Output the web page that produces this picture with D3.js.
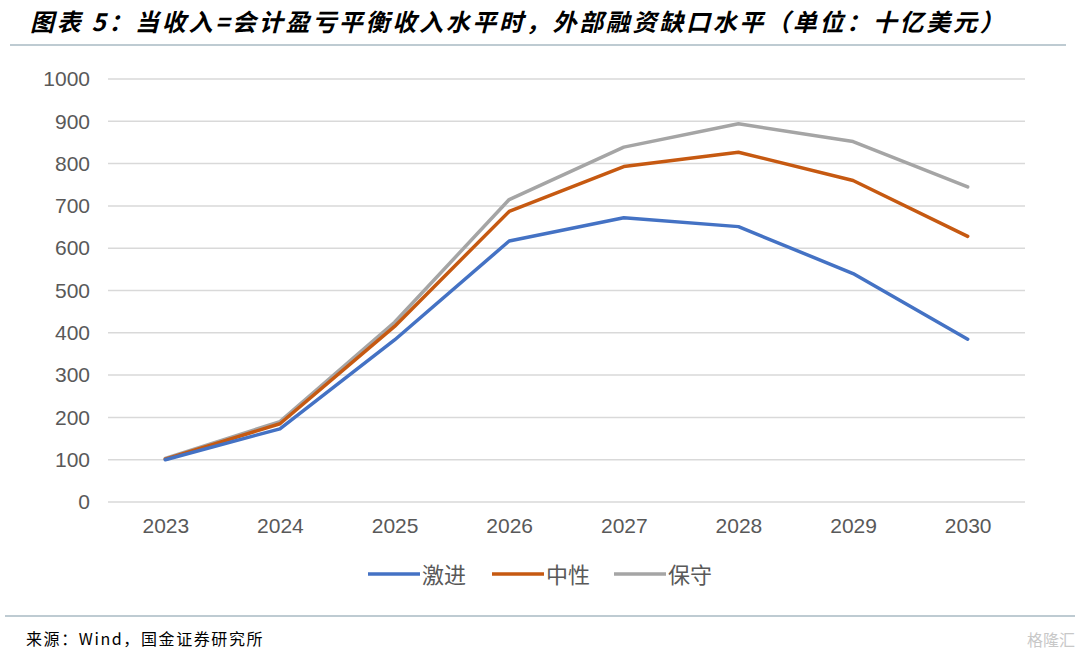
<!DOCTYPE html>
<html>
<head>
<meta charset="utf-8">
<script src="https://cdn.jsdelivr.net/npm/d3@7"></script>
<style>
  body { margin: 0; background: #fff; }
  svg { display: block; font-family: "Noto Sans CJK SC", "Liberation Sans", sans-serif; }
</style>
</head>
<body>
<div id="chart"></div>
<script>
// data (十亿美元)
const years = ['2023', '2024', '2025', '2026', '2027', '2028', '2029', '2030'];
const seriesNames = ['激进', '中性', '保守'];
const aggressive = [100, 173, 383, 617, 672, 651, 540, 385];
const neutral = [101, 185, 415, 687, 793, 827, 760, 628];
const conservative = [103, 190, 425, 715, 839, 894, 852, 745];
const yTicks = [0, 100, 200, 300, 400, 500, 600, 700, 800, 900, 1000];
const colors = ['#4472C4', '#C65911', '#A5A5A5'];

const W = 1080, H = 660;
const plot = { left: 108, right: 1025, top: 79, bottom: 502 };

const svg = d3.select('#chart').append('svg')
  .attr('width', W).attr('height', H);

// title + rule
svg.append('text')
  .attr('x', 30).attr('y', 31)
  .attr('font-size', 24).attr('font-weight', 'bold').attr('font-style', 'italic')
  .attr('letter-spacing', 2.7)
  .attr('fill', '#000')
  .text('图表 5：当收入=会计盈亏平衡收入水平时，外部融资缺口水平（单位：十亿美元）');
svg.append('line')
  .attr('x1', 10).attr('x2', 1066).attr('y1', 45).attr('y2', 45)
  .attr('stroke', '#7f97a6').attr('stroke-width', 1.2);

// scales
const x = d3.scalePoint().domain(years).range([plot.left, plot.right]).padding(0.5);
const y = d3.scaleLinear().domain([0, 1000]).range([plot.bottom, plot.top]);

// grid
svg.append('g')
  .selectAll('line')
  .data(yTicks)
  .join('line')
  .attr('x1', plot.left).attr('x2', plot.right)
  .attr('y1', d => y(d)).attr('y2', d => y(d))
  .attr('stroke', '#d9d9d9').attr('stroke-width', 1.5);

// y axis labels
const yAxis = svg.append('g')
  .attr('transform', `translate(${plot.left},0)`)
  .call(d3.axisLeft(y).tickValues(yTicks).tickFormat(d3.format('d')).tickSize(0).tickPadding(18));
yAxis.select('.domain').remove();
yAxis.selectAll('text')
  .attr('font-size', 21).attr('fill', '#595959')
  .attr('font-family', 'Liberation Sans, Arial, sans-serif');

// x axis labels
const xAxis = svg.append('g')
  .attr('transform', `translate(0,${plot.bottom})`)
  .call(d3.axisBottom(x).tickSize(0).tickPadding(16));
xAxis.select('.domain').remove();
xAxis.selectAll('text')
  .attr('font-size', 21).attr('fill', '#595959')
  .attr('font-family', 'Liberation Sans, Arial, sans-serif');

// lines
const allSeries = [aggressive, neutral, conservative];
const line = d3.line()
  .x((d, i) => x(years[i]))
  .y(d => y(d));

// draw 保守 first so 激进 sits on top like the reference
[2, 1, 0].forEach(k => {
  svg.append('path')
    .datum(allSeries[k])
    .attr('d', line)
    .attr('fill', 'none')
    .attr('stroke', colors[k])
    .attr('stroke-width', 3.5)
    .attr('stroke-linejoin', 'round')
    .attr('stroke-linecap', 'round');
});

// legend
const legendX = [368, 492, 614];
const legend = svg.append('g').attr('class', 'legend');
seriesNames.forEach((name, i) => {
  legend.append('line')
    .attr('x1', legendX[i]).attr('x2', legendX[i] + 52)
    .attr('y1', 574).attr('y2', 574)
    .attr('stroke', colors[i]).attr('stroke-width', 3.5);
  legend.append('text')
    .attr('x', legendX[i] + 54).attr('y', 583)
    .attr('font-size', 22).attr('fill', '#595959')
    .text(name);
});

// footer
svg.append('line')
  .attr('x1', 5).attr('x2', 1075).attr('y1', 616).attr('y2', 616)
  .attr('stroke', '#7f97a6').attr('stroke-width', 1.2);
svg.append('text')
  .attr('x', 26).attr('y', 645)
  .attr('font-size', 16).attr('letter-spacing', 1.6).attr('fill', '#000')
  .attr('font-family', '"Noto Sans CJK SC", "DejaVu Sans Mono", monospace')
  .text('来源：Wind，国金证券研究所');

// watermark
svg.append('text')
  .attr('x', 1075).attr('y', 646)
  .attr('text-anchor', 'end')
  .attr('font-size', 16).attr('fill', '#c8c8c8')
  .text('格隆汇');
</script>
</body>
</html>
